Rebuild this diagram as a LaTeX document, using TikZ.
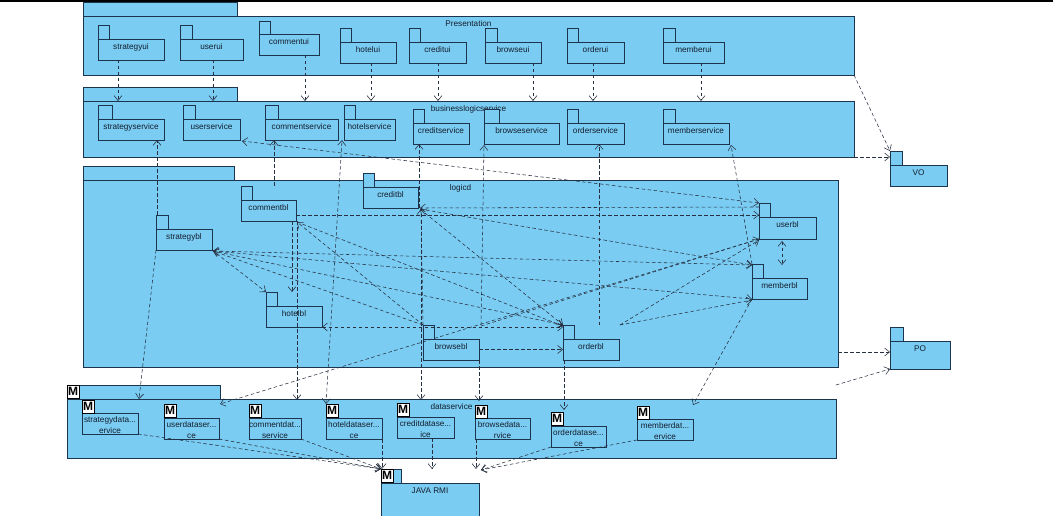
\documentclass[tikz,border=0pt]{standalone}
\usepackage{fontspec}
\setmainfont{Liberation Sans}
\usetikzlibrary{arrows.meta,calc,fit}
\definecolor{pkfill}{RGB}{122,204,242}
\definecolor{pkline}{RGB}{28,52,78}
\definecolor{depline}{RGB}{38,48,64}
\definecolor{txt}{RGB}{20,30,45}
\tikzset{
  pkg/.style={draw=pkline, fill=pkfill, line width=0.8pt},
  body/.style={pkg, inner sep=0pt, outer sep=0pt},
  lbl/.style={font=\fontsize{8.2}{9}\selectfont, text=txt, inner sep=0pt, anchor=base},
  micon/.style={draw=black, fill=white, line width=0.4pt, inner sep=0pt, minimum width=12pt, minimum height=13pt, anchor=north west, font=\fontsize{12}{12}\selectfont\bfseries, text=black},
  dep/.style={draw=depline, line width=0.55pt, dash pattern=on 3.5pt off 2.5pt, -{Straight Barb[length=5pt,width=8pt]}},
  bidep/.style={dep, {Straight Barb[length=5pt,width=8pt]}-{Straight Barb[length=5pt,width=8pt]}},
}
% name, x1, ytab, xtab, ybody, x2, y2, label
\newcommand\mkpkg[8]{%
  \draw[pkg] (#2,#3) rectangle (#4,#5);
  \node[body, fit={(#2,#5)(#6,#7)}] (#1) {};
  \node[lbl] (#1-l) at ($(#1.north)+(0,10.5)$) {#8};
}
% name, x1, yicon, ybody, x2, y2, line1, line2
\newcommand\mkdpkg[8]{%
  \node[body, fit={(#2,#4)(#5,#6)}] (#1) {};
  \node[micon] (#1-m) at (#2,#3) {M};
  \node[lbl] (#1-a) at ($(#1.north)+(0,9.5)$) {#7};
  \node[lbl] (#1-b) at ($(#1.north)+(0,20.3)$) {#8};
}
\begin{document}
\begin{tikzpicture}[x=1pt,y=-1pt]
\useasboundingbox (0,0) rectangle (1053,516);
\fill[black] (0,0) rectangle (1053,1.6);
% big packages
\mkpkg{pres}{83}{2}{237}{16}{854}{75}{Presentation}
\mkpkg{bls}{83}{87}{237}{101}{854}{157}{businesslogicservice}
\mkpkg{logic}{83}{166}{234}{180}{838}{367}{logicd}
\mkpkg{data}{67}{385}{220}{399}{836}{458}{dataservice}
\node[micon] (data-m) at (67,385) {M};
\mkpkg{vo}{890}{151}{902}{165}{947}{186}{VO}
\mkpkg{po}{890}{327}{903}{341}{950}{369}{PO}
\mkpkg{rmi}{381}{469}{401}{483}{479}{518}{JAVA RMI}
\node[micon] (rmi-m) at (381,469) {M};
% ui
\mkpkg{sui}{98}{25}{109}{39}{164}{60}{strategyui}
\mkpkg{uui}{180}{25}{192}{39}{243}{60}{userui}
\mkpkg{cui}{259}{21}{270}{34}{319}{55}{commentui}
\mkpkg{hui}{340}{28}{351}{42}{396}{63}{hotelui}
\mkpkg{crui}{409}{28}{420}{42}{466}{63}{creditui}
\mkpkg{bui}{485}{28}{497}{42}{541}{63}{browseui}
\mkpkg{oui}{567}{28}{578}{42}{624}{63}{orderui}
\mkpkg{mui}{663}{28}{675}{42}{724}{63}{memberui}
% services
\mkpkg{ss}{98}{105}{112}{119}{164}{140}{strategyservice}
\mkpkg{us}{183}{105}{195}{119}{240}{140}{userservice}
\mkpkg{cs}{265}{105}{278}{119}{338}{140}{commentservice}
\mkpkg{hs}{344}{105}{355}{119}{395}{140}{hotelservice}
\mkpkg{crs}{413}{109}{424}{123}{469}{144}{creditservice}
\mkpkg{bs}{484}{109}{499}{123}{559}{144}{browseservice}
\mkpkg{os}{567}{109}{578}{123}{624}{144}{orderservice}
\mkpkg{ms}{663}{109}{675}{123}{729}{144}{memberservice}
% logic
\mkpkg{cbl}{241}{186}{252}{200}{296}{221}{commentbl}
\mkpkg{crbl}{363}{173}{374}{187}{418}{208}{creditbl}
\mkpkg{sbl}{156}{215}{168}{229}{212}{250}{strategybl}
\mkpkg{hbl}{266}{292}{277}{306}{322}{327}{hotelbl}
\mkpkg{bbl}{423}{325}{434}{339}{479}{360}{browsebl}
\mkpkg{obl}{563}{325}{574}{339}{619}{360}{orderbl}
\mkpkg{ubl}{759}{203}{770}{217}{816}{239}{userbl}
\mkpkg{mbl}{752}{264}{763}{278}{807}{299}{memberbl}
% data
\mkdpkg{sds}{82}{400}{413}{138}{434}{strategydata...}{ervice}
\mkdpkg{uds}{164}{404}{418}{219}{439}{userdataser...}{ce}
\mkdpkg{cds}{249}{404}{418}{301}{439}{commentdat...}{service}
\mkdpkg{hds}{326}{404}{418}{382}{439}{hoteldataser...}{ce}
\mkdpkg{crds}{397}{403}{417}{454}{438}{creditdatase...}{ice}
\mkdpkg{bds}{475}{405}{418}{530}{439}{browsedata...}{rvice}
\mkdpkg{ods}{551}{412}{426}{606}{447}{orderdatase...}{ce}
\mkdpkg{mds}{637}{406}{419}{693}{440}{memberdat...}{ervice}
% presentation -> businesslogicservice
\draw[dep] ($(sui.south west)+(20,0)$) -- ($(sui.south west |- bls.north)+(20,0)$);
\draw[dep] ($(uui.south west)+(33,0)$) -- ($(uui.south west |- bls.north)+(33,0)$);
\draw[dep] ($(cui.south west)+(46,0)$) -- ($(cui.south west |- bls.north)+(46,0)$);
\draw[dep] ($(hui.south west)+(31,0)$) -- ($(hui.south west |- bls.north)+(31,0)$);
\draw[dep] ($(crui.south west)+(29,0)$) -- ($(crui.south west |- bls.north)+(29,0)$);
\draw[dep] ($(bui.south west)+(48,0)$) -- ($(bui.south west |- bls.north)+(48,0)$);
\draw[dep] ($(oui.south west)+(26,0)$) -- ($(oui.south west |- bls.north)+(26,0)$);
\draw[dep] ($(mui.south west)+(38,0)$) -- ($(mui.south west |- bls.north)+(38,0)$);
\draw[dep] (pres.south east) -- ($(vo.north west)+(0,-14)$);
\draw[dep] (bls.south east) -- (bls.south east -| vo.west);
% logic -> services
\draw[dep] ($(sbl.north west)+(1,-14)$) -- ($(sbl.north west |- ss.south)+(1,0)$);
\draw[bidep] ($(ubl.north west)+(0,-14)$) -- ($(us.south east)+(2,1)$);
\draw[dep] ($(cbl.north west)+(33,-14)$) -- ($(cbl.north west |- cs.south)+(33,0)$);
\draw[bidep] ($(hds.north west)+(0,-14)$) -- ($(hs.south west)+(-2,0)$);
\draw[dep] ($(crbl.south east)+(1,0)$) -- ($(crbl.south east |- crs.south)+(1,0)$);
\draw[dep] ($(bbl.north east)+(2,-14)$) -- ($(bs.south west)+(0,1)$);
\draw[dep] ($(obl.north west)+(36,-14)$) -- ($(obl.north west |- os.south)+(36,0)$);
\draw[dep] ($(mbl.north west)+(0,-14)$) -- ($(ms.south east)+(2,1)$);
% logic -> data
\draw[dep] ($(crbl.south east)+(3,0)$) -- ($(crbl.south east |- data.north)+(3,1)$);
\draw[dep] (bbl.south east) -- ($(bbl.south east |- data.north)+(0,2)$);
\draw[dep] ($(obl.south west)+(1,0)$) -- ($(ods.north west)+(13,-16)$);
\draw[dep] (mbl.south west) -- ($(mds.north east)+(0,-14)$);
\draw[dep] (sbl.south west) -- ($(sds.north east)+(1,-14)$);
\draw[dep] (ubl.south west) -- ($(uds.north east)+(1,-14)$);
\draw[dep] ($(cbl.south east)+(1,0)$) -- ($(cbl.south east |- data.north)+(1,1)$);
% inside logicd
\draw[dep] ($(cbl.south east)+(-4,0)$) -- ($(cbl.south east |- hbl.north)+(-4,-14)$);
\draw[dep] ($(cbl.south east)+(0,-6)$) -- ($(cbl.south east -| ubl.west)+(0,-6)$);
\draw[dep] ($(ubl.north west)+(0,-10)$) -- ($(crbl.south east)+(2,0)$);
\draw[dep] ($(crbl.south east)+(2,1)$) -- ($(mbl.north west)+(0,-13)$);
\draw[bidep] ($(crbl.south east)+(2,1)$) -- ($(obl.north west)+(0,-14)$);
\draw[dep] ($(bbl.north west)+(0,-14)$) -- ($(crbl.south east)+(3,1)$);
\draw[dep] ($(bbl.north west)+(0,-14)$) -- ($(cbl.south east)+(1,1)$);
\draw[dep] ($(cbl.south east)+(1,1)$) -- ($(obl.north west)+(0,-13)$);
\draw[dep] (sbl.south east) -- ($(hbl.north west)+(0,-14)$);
\draw[bidep] ($(mbl.north west)+(0,-13)$) -- ($(sbl.south east)+(1,1)$);
\draw[bidep] ($(obl.north west)+(0,-14)$) -- ($(sbl.south east)+(1,1)$);
\draw[dep] ($(bbl.north west)+(0,-14)$) -- ($(sbl.south east)+(1,1)$);
\draw[dep] ($(sbl.south east)+(1,1)$) -- (mbl.south west);
\draw[bidep] (hbl.south east) -- (hbl.south east -| obl.west);
\draw[dep] (bbl.east) -- (obl.west);
\draw[dep] ($(bbl.north east)+(2,-13)$) -- (ubl.south west);
\draw[dep] ($(obl.north east)+(1,-14)$) -- ($(ubl.south west)+(0,1)$);
\draw[dep] ($(obl.north east)+(1,-14)$) -- ($(mbl.south west)+(0,1)$);
\draw[bidep] ($(ubl.south west)+(23,2)$) -- ($(ubl.south west |- mbl.north)+(23,-13)$);
% to PO
\draw[dep] ($(logic.south east)+(0,-15)$) -- ($(logic.south east -| po.west)+(0,-15)$);
\draw[dep] ($(data.north east)+(0,-14)$) -- (po.south west);
% data -> JAVA RMI
\draw[dep] (sds.south east) -- ($(rmi.north west)+(0,-14)$);
\draw[dep] (uds.south east) -- ($(rmi.north west)+(0,-14)$);
\draw[dep] (cds.south east) -- ($(rmi.north west)+(0,-14)$);
\draw[dep] (hds.south east) -- ($(hds.south east |- rmi.north)+(0,-14)$);
\draw[dep] ($(crds.south west)+(35,0)$) -- ($(crds.south west |- rmi.north)+(35,-14)$);
\draw[dep] ($(bds.south west)+(1,0)$) -- ($(bds.south west |- rmi.north)+(1,-14)$);
\draw[dep] (ods.south west) -- ($(rmi.north east)+(2,-13)$);
\draw[dep] (mds.south west) -- ($(rmi.north east)+(2,-13)$);
\end{tikzpicture}
\end{document}
